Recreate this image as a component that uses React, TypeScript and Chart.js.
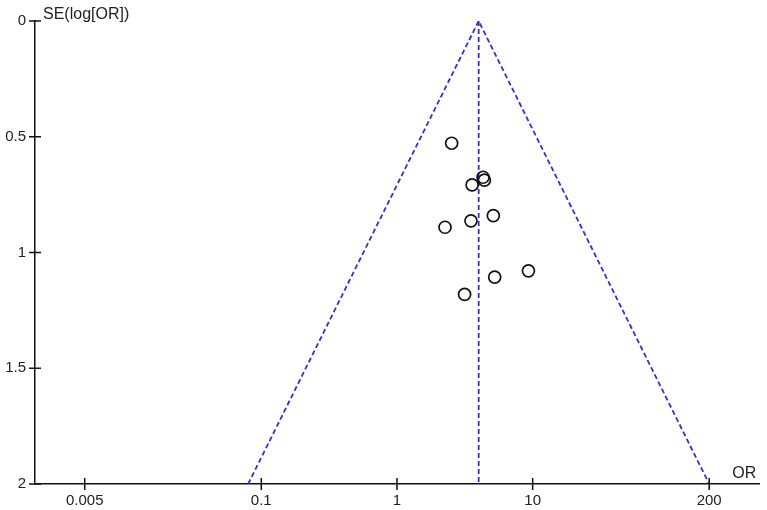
import { useRef, useEffect } from "react";
import { Chart, registerables, type ChartOptions, type Plugin } from "chart.js";

Chart.register(...registerables);

// study estimates
const studyOR = [2.53, 4.31, 4.41, 3.58, 5.13, 3.51, 2.26, 9.31, 5.25, 3.15];
const studySE = [0.528, 0.675, 0.687, 0.708, 0.841, 0.863, 0.891, 1.079, 1.106, 1.181];

// funnel (pseudo 95% limits) and pooled estimate
const funnelOR = [0.08, 4.0, 200];
const funnelSE = [2, 0, 2];
const pooledOR = [4.0, 4.0];
const pooledSE = [0, 2];

const xTicks = [0.005, 0.1, 1, 10, 200];
const yTicks = [0, 0.5, 1, 1.5, 2];

const FONT = "Liberation Sans, Arial, sans-serif";
const BLUE = "#3030d0";

const axisDecor: Plugin<"scatter"> = {
  id: "axisDecor",
  afterDraw(chart) {
    const { ctx, chartArea, scales } = chart;
    const x = scales.x;
    const y = scales.y;
    ctx.save();
    ctx.strokeStyle = "#111";
    ctx.lineWidth = 1.5;
    ctx.beginPath();
    xTicks.forEach((v) => {
      const px = x.getPixelForValue(v);
      ctx.moveTo(px, chartArea.bottom - 6);
      ctx.lineTo(px, chartArea.bottom + 6);
    });
    yTicks.forEach((v) => {
      const py = y.getPixelForValue(v);
      ctx.moveTo(chartArea.left - 6, py);
      ctx.lineTo(chartArea.left + 6, py);
    });
    ctx.stroke();

    ctx.fillStyle = "#222";
    ctx.font = `16px ${FONT}`;
    ctx.textBaseline = "alphabetic";
    ctx.textAlign = "left";
    ctx.fillText("SE(log[OR])", chartArea.left + 8, chartArea.top - 2);
    ctx.textAlign = "right";
    ctx.fillText("OR", chartArea.right - 3, chartArea.bottom - 6);
    ctx.restore();
  },
};

export default function App() {
  const canvasRef = useRef<HTMLCanvasElement>(null);
  const chartRef = useRef<Chart<"scatter"> | null>(null);

  useEffect(() => {
    if (!canvasRef.current) return;
    if (chartRef.current) chartRef.current.destroy();

    const lineStyle = {
      showLine: true,
      borderColor: BLUE,
      borderWidth: 1.8,
      borderDash: [5, 3],
      pointRadius: 0,
      fill: false,
    };

    const options: ChartOptions<"scatter"> = {
      responsive: false,
      animation: false,
      maintainAspectRatio: false,
      plugins: {
        legend: { display: false },
        tooltip: { enabled: false },
      },
      layout: { padding: { top: 21, right: 5, left: 0, bottom: 0 } },
      scales: {
        x: {
          type: "logarithmic",
          min: 0.00215,
          max: 468,
          afterBuildTicks: (scale) => {
            scale.ticks = xTicks.map((v) => ({ value: v }));
          },
          afterFit: (scale) => {
            scale.height = 26;
          },
          ticks: {
            autoSkip: false,
            maxRotation: 0,
            padding: 8,
            color: "#222",
            font: { family: FONT, size: 15 },
            callback: (v) => String(v),
          },
          grid: { display: false, drawTicks: false },
          border: { display: true, color: "#111", width: 1.5 },
        },
        y: {
          type: "linear",
          reverse: true,
          min: 0,
          max: 2,
          afterBuildTicks: (scale) => {
            scale.ticks = yTicks.map((v) => ({ value: v }));
          },
          afterFit: (scale) => {
            scale.width = 35;
          },
          ticks: {
            padding: 9,
            color: "#222",
            font: { family: FONT, size: 15 },
            callback: (v) => String(v),
          },
          grid: { display: false, drawTicks: false },
          border: { display: true, color: "#111", width: 1.5 },
        },
      },
    };

    chartRef.current = new Chart(canvasRef.current, {
      type: "scatter",
      data: {
        datasets: [
          {
            label: "Studies",
            data: studyOR.map((v, i) => ({ x: v, y: studySE[i] })),
            pointStyle: "circle",
            pointRadius: 6,
            backgroundColor: "rgba(0,0,0,0)",
            borderColor: "#111",
            borderWidth: 1.7,
          },
          {
            label: "Funnel",
            data: funnelOR.map((v, i) => ({ x: v, y: funnelSE[i] })),
            ...lineStyle,
          },
          {
            label: "Pooled",
            data: pooledOR.map((v, i) => ({ x: v, y: pooledSE[i] })),
            ...lineStyle,
          },
        ],
      },
      options,
      plugins: [axisDecor],
    });

    return () => {
      chartRef.current?.destroy();
      chartRef.current = null;
    };
  }, []);

  return (
    <div style={{ position: "absolute", left: 0, top: 0, width: 767, height: 510, background: "#fff" }}>
      <canvas ref={canvasRef} width={767} height={510} style={{ width: 767, height: 510 }} />
    </div>
  );
}
